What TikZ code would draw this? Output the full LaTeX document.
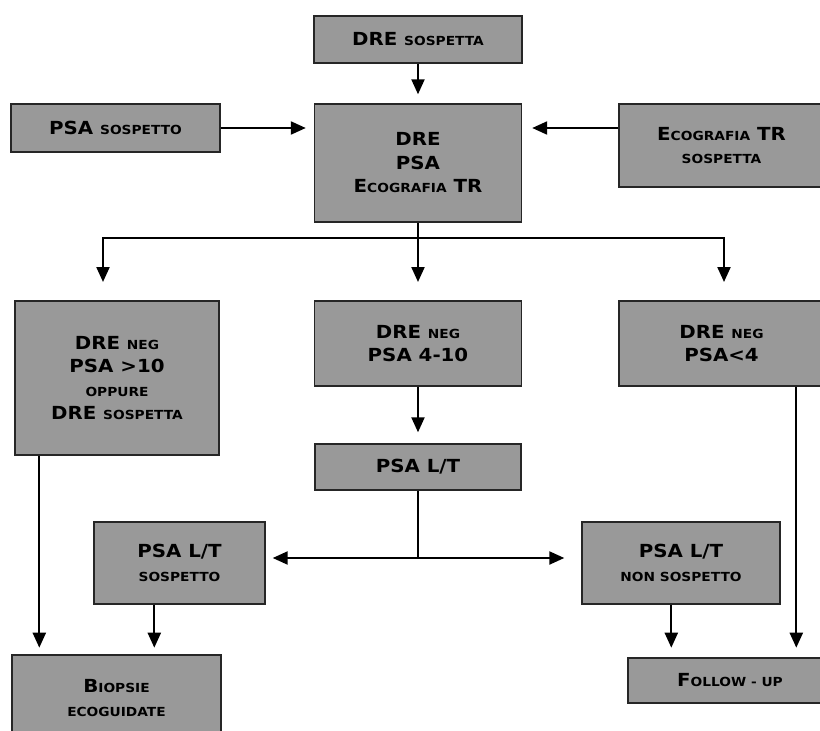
\documentclass[tikz,border=0pt]{standalone}
\usepackage{fontspec}
\setmainfont{DejaVu Sans}[FakeStretch=1.1]
\usetikzlibrary{arrows.meta}
\definecolor{grigio}{RGB}{153,153,153}
\newcommand{\mai}[1]{{\fontsize{12.5}{23}\selectfont\MakeUppercase{#1}}}

\begin{document}
\begin{tikzpicture}[x=1pt,y=-1pt,
    blocco/.style={draw=black!85,line width=1.4pt,fill=grigio,align=center,inner sep=2pt,
        font=\fontsize{18}{23.5}\selectfont\bfseries},
    freccia/.style={-{Triangle[length=15pt,width=13pt]},line width=2.2pt}]
        \clip (0,0) rectangle (820,731);
        %%%%%%%%%% Nodi %%%%%%%%%%
        \node (DREs) at (418,39.5) [blocco,minimum width=208pt,minimum height=47pt] {DRE \mai{sospetta}};
        \node (PSAs) at (115.5,128) [blocco,minimum width=209pt,minimum height=48pt] {PSA \mai{sospetto}};
        \node (ESAMI) at (418,163) [blocco,minimum width=207pt,minimum height=118pt] {DRE\\PSA\\E\mai{cografia} TR};
        \node (ECOs) at (721.5,145.5) [blocco,minimum width=205pt,minimum height=83pt] {E\mai{cografia} TR\\\mai{sospetta}};
        \node (NEGalto) at (117,378) [blocco,minimum width=204pt,minimum height=154pt] {DRE \mai{neg}\\PSA >10\\\mai{oppure}\\DRE \mai{sospetta}};
        \node (NEGmedio) at (418,343.5) [blocco,minimum width=207pt,minimum height=85pt] {DRE \mai{neg}\\PSA 4-10};
        \node (NEGbasso) at (721.5,343.5) [blocco,minimum width=205pt,minimum height=85pt] {DRE \mai{neg}\\PSA<4};
        \node (LT) at (418,467) [blocco,minimum width=206pt,minimum height=46pt] {PSA L/T};
        \node (LTs) at (179.5,563) [blocco,minimum width=171pt,minimum height=82pt] {PSA L/T\\\mai{sospetto}};
        \node (LTns) at (681,563) [blocco,minimum width=198pt,minimum height=82pt] {PSA L/T\\\mai{non sospetto}};
        \node (BIOPSIE) at (116.5,698) [blocco,minimum width=209pt,minimum height=86pt] {B\mai{iopsie}\\\mai{ecoguidate}};
        \node (FOLLOW) at (730,680.5) [blocco,minimum width=204pt,minimum height=45pt] {F\mai{ollow - up}};
        \coordinate (bivio) at (418,238);
        \coordinate (snodo) at (418,558);

        %%%%%%%%% Frecce %%%%%%%%%
        \draw[freccia,shorten >=9pt] (DREs.south) -- (ESAMI.north);
        \draw[freccia,shorten >=8pt] (PSAs.east) -- (PSAs.east -| ESAMI.west);
        \draw[freccia,shorten >=10pt] (PSAs.east -| ECOs.west) -- (PSAs.east -| ESAMI.east);
        \draw[line width=2.2pt] (ESAMI.south) -- (bivio);
        \draw[freccia] (bivio) -| ++(-315,44);
        \draw[freccia] (bivio) -- ++(0,44);
        \draw[freccia] (bivio) -| ++(306,44);
        \draw[freccia,shorten >=11pt] (NEGmedio.south) -- (LT.north);
        \draw[line width=2.2pt] (LT.south) -- (snodo);
        \draw[{Triangle[length=15pt,width=13pt]}-{Triangle[length=15pt,width=13pt]},line width=2.2pt,
            shorten <=7pt,shorten >=17pt] (LTs.east |- snodo) -- (LTns.west |- snodo);
        \draw[freccia] (NEGalto.south west) ++(25,0) -- ++(0,192);
        \draw[freccia] (LTs.south west) ++(61,0) -- ++(0,43);
        \draw[freccia] (LTns.south west) ++(90,0) -- ++(0,43);
        \draw[freccia] (NEGbasso.south west) ++(178,0) -- ++(0,261);
    \end{tikzpicture}
\end{document}
